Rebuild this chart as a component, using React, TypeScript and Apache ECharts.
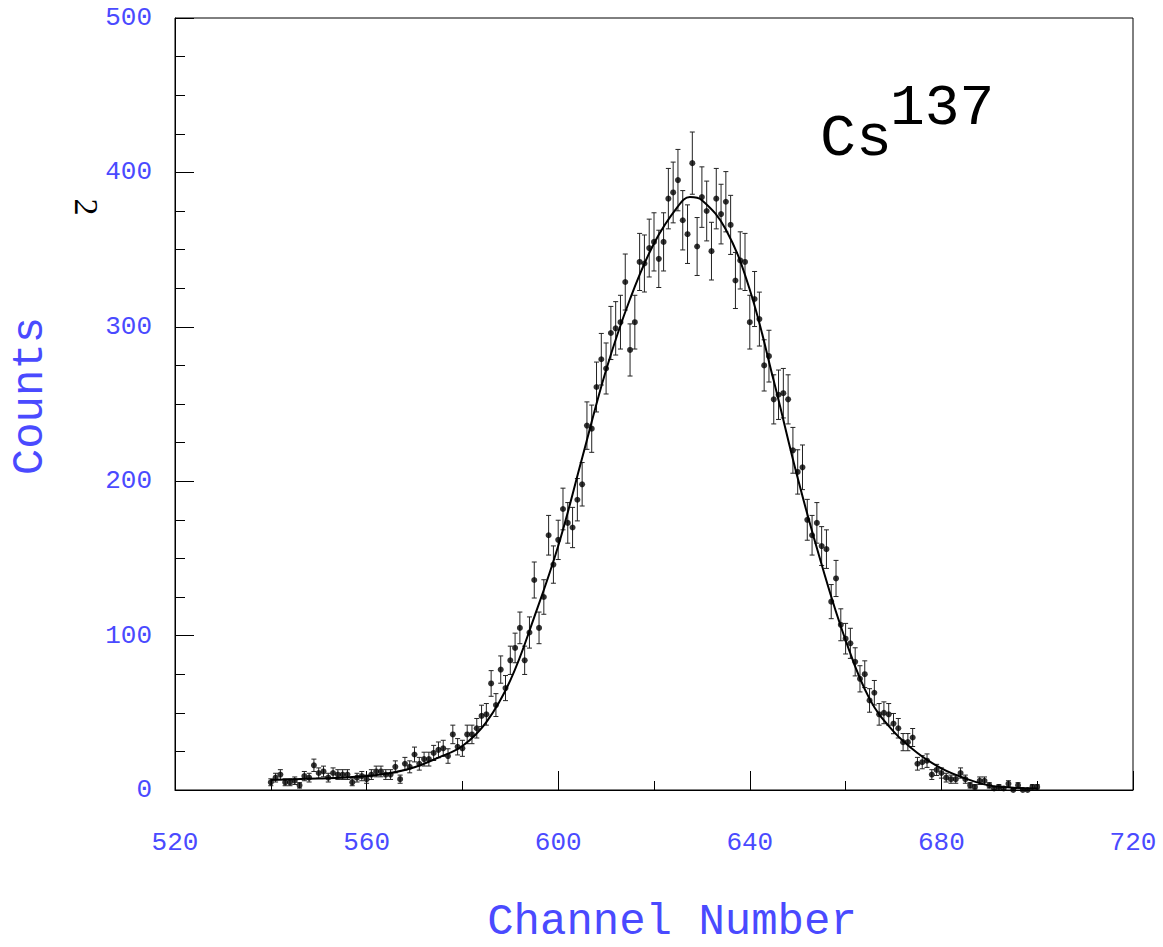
import React, { useEffect, useRef } from "react";
import * as echarts from "echarts";

const firstChannel = 540;
const counts = [
  5, 8, 10, 5, 5, 6, 3, 9, 8, 16,
  11, 12, 8, 11, 10, 10, 10, 5, 8, 9,
  7, 10, 12, 12, 10, 10, 15, 7, 17, 15,
  23, 17, 20, 20, 24, 26, 27, 22, 36, 28,
  27, 36, 36, 40, 48, 49, 69, 55, 78, 66,
  84, 92, 105, 84, 102, 136, 105, 125, 165, 146,
  162, 182, 173, 170, 188, 198, 236, 234, 261, 279,
  273, 296, 299, 303, 329, 285, 303, 342, 341, 351,
  355, 344, 355, 383, 387, 395, 369, 360, 406, 352,
  384, 375, 349, 383, 373, 381, 366, 330, 343, 342,
  303, 318, 305, 275, 281, 253, 256, 257, 253, 220,
  206, 209, 175, 165, 173, 158, 156, 122, 137, 107,
  98, 95, 83, 72, 75, 58, 63, 49, 50, 49,
  43, 40, 31, 31, 34, 17, 18, 19, 10, 13,
  11, 8, 7, 7, 11, 7, 3, 2, 6, 6,
  3, 1, 2, 1, 4, 0, 3, 0, 0, 2,
  2,
];

const fitChannels = [
  540, 545, 550, 555, 560, 565, 570, 575, 580, 585, 590, 595, 600, 605, 610,
  615, 620, 625, 627.5, 630, 635, 640, 645, 650, 655, 660, 665, 670, 675, 680,
  685, 690, 695, 700,
];
const fitValues = [
  6.5, 7, 7.5, 8, 9, 11, 14.7, 21, 28.5, 44, 71, 112, 158, 215, 272,
  318, 354, 378, 384, 382, 363, 324, 265, 202, 146, 97, 59, 38, 24, 14,
  7.5, 3, 1.5, 1,
];

const xAxisName = "Channel Number";
const yAxisName = "Counts";
const labelBlue = "#4a4aff";
const mono = "Liberation Mono";

export default function App() {
  const ref = useRef<HTMLDivElement>(null);
  useEffect(() => {
    document.body.style.margin = "0";
    const chart = echarts.init(ref.current!, null, { renderer: "svg" });
    const points = counts.map((c, i) => [firstChannel + i, c]);
    const bars = counts.map((c, i) => {
      const e = Math.sqrt(Math.max(c, 1));
      return [firstChannel + i, Math.max(c - e, 0), c + e];
    });
    const fit = fitChannels.map((x, i) => [x, fitValues[i]]);

    chart.setOption({
      animation: false,
      grid: {
        left: 175,
        right: 30,
        top: 18,
        bottom: 157,
        show: true,
        borderColor: "#000",
        borderWidth: 1,
      },
      xAxis: {
        type: "value",
        min: 520,
        max: 720,
        interval: 40,
        axisLine: { show: true, onZero: false, lineStyle: { color: "#000", width: 1 } },
        axisTick: { show: true, inside: true, length: 19, lineStyle: { color: "#000" } },
        minorTick: { show: true, splitNumber: 2, length: 9, lineStyle: { color: "#000" } },
        splitLine: { show: false },
        axisLabel: {
          color: labelBlue,
          fontFamily: mono,
          fontSize: 26,
          margin: 40,
          showMinLabel: true,
          showMaxLabel: true,
        },
      },
      yAxis: {
        type: "value",
        min: 0,
        max: 500,
        interval: 100,
        axisLine: { show: true, lineStyle: { color: "#000", width: 1 } },
        axisTick: { show: true, inside: true, length: 19, lineStyle: { color: "#000" } },
        minorTick: { show: true, splitNumber: 4, length: 10, lineStyle: { color: "#000" } },
        splitLine: { show: false },
        axisLabel: {
          color: labelBlue,
          fontFamily: mono,
          fontSize: 26,
          margin: 23,
        },
      },
      graphic: [
        {
          type: "text",
          x: 672,
          y: 922,
          style: {
            text: xAxisName,
            fill: labelBlue,
            font: `44px "${mono}"`,
            textAlign: "center",
            textVerticalAlign: "middle",
          },
        },
        {
          type: "text",
          x: 30,
          y: 396,
          rotation: Math.PI / 2,
          style: {
            text: yAxisName,
            fill: labelBlue,
            font: `44px "${mono}"`,
            textAlign: "center",
            textVerticalAlign: "middle",
          },
        },
        {
          type: "text",
          x: 86,
          y: 207,
          rotation: -Math.PI / 2,
          style: {
            text: "2",
            fill: "#000",
            font: `34px "Liberation Serif"`,
            textAlign: "center",
            textVerticalAlign: "middle",
          },
        },
        {
          type: "text",
          x: 820,
          y: 139,
          style: {
            text: "Cs",
            fill: "#000",
            font: `60px "${mono}"`,
            textAlign: "left",
            textVerticalAlign: "middle",
          },
        },
        {
          type: "text",
          x: 890,
          y: 108,
          style: {
            text: "137",
            fill: "#000",
            font: `58px "${mono}"`,
            textAlign: "left",
            textVerticalAlign: "middle",
          },
        },
      ],
      series: [
        {
          type: "custom",
          data: bars,
          clip: true,
          z: 2,
          renderItem: (params: any, api: any) => {
            const x = api.value(0);
            const lo = api.coord([x, api.value(1)]);
            const hi = api.coord([x, api.value(2)]);
            const hw = 2.5;
            const style = { stroke: "#222", lineWidth: 1 };
            return {
              type: "group",
              children: [
                { type: "line", shape: { x1: lo[0], y1: lo[1], x2: hi[0], y2: hi[1] }, style },
                { type: "line", shape: { x1: hi[0] - hw, y1: hi[1], x2: hi[0] + hw, y2: hi[1] }, style },
                { type: "line", shape: { x1: lo[0] - hw, y1: lo[1], x2: lo[0] + hw, y2: lo[1] }, style },
              ],
            };
          },
        },
        {
          type: "scatter",
          data: points,
          symbol: "circle",
          symbolSize: 6,
          itemStyle: { color: "#000" },
          z: 3,
        },
        {
          type: "line",
          data: fit,
          smooth: 0.4,
          showSymbol: false,
          lineStyle: { color: "#000", width: 2 },
          z: 4,
        },
      ],
    });
    return () => chart.dispose();
  }, []);
  return <div ref={ref} style={{ width: 1163, height: 947 }} />;
}
